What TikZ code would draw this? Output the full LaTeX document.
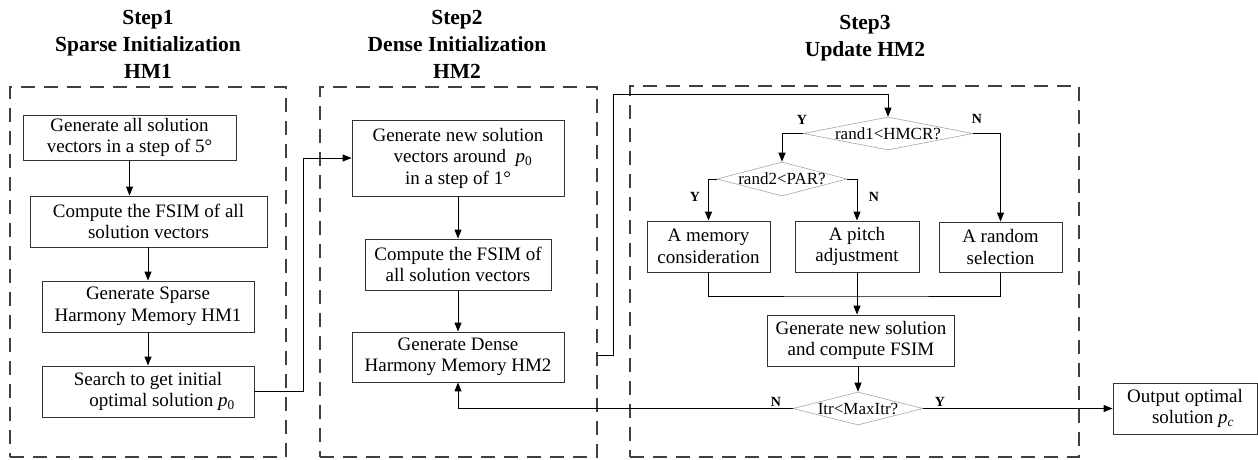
\documentclass[tikz,border=0pt]{standalone}
\usepackage{fontspec}
\setmainfont{Liberation Serif}
\usetikzlibrary{arrows.meta,shapes.geometric,calc}
\newcommand{\dtext}[1]{\makebox[0pt]{\raisebox{-0.33em}[0pt][0pt]{#1}}}
\begin{document}
\begin{tikzpicture}[x=1pt,y=1pt,
  box/.style={draw=black!80, line width=0.9pt, align=center, inner sep=1pt, font=\fontsize{19}{21.5}\selectfont},
  dbox/.style={draw=black!75, line width=1.1pt, dash pattern=on 14pt off 9pt, inner sep=0},
  dia/.style={diamond, draw=black!35, line width=0.6pt, inner sep=0, font=\fontsize{17}{19}\selectfont},
  arr/.style={-{Triangle[length=9pt,width=7pt]}, line width=1pt},
  conn/.style={line width=1pt},
  yn/.style={font=\fontsize{14}{16}\selectfont\bfseries, inner sep=0},
  ttl/.style={font=\fontsize{21.5}{27}\selectfont\bfseries, align=center}
]
\useasboundingbox (0,0) rectangle (1258,459);

% titles
\node[ttl] (T1) at (148,414.5) {Step1\\Sparse Initialization\\HM1};
\node[ttl] (T2) at (457,414.5) {Step2\\Dense Initialization\\HM2};
\node[ttl] (T3) at (865,421) {Step3\\Update HM2};

% dashed frames
\node[dbox, minimum width=276, minimum height=370] (D1) at (148,187) {};
\node[dbox, minimum width=277, minimum height=370] (D2) at (458.5,187) {};
\node[dbox, minimum width=449, minimum height=371] (D3) at (854.5,187.5) {};

% step 1
\node[box, minimum width=213, minimum height=45] (A1) at (129.5,321.5) {Generate all solution\\vectors in a step of 5°};
\node[box, minimum width=237, minimum height=51] (A2) at (148.5,237.5) {Compute the FSIM of all\\solution vectors};
\node[box, minimum width=212, minimum height=51] (A3) at (148,152.5) {Generate Sparse\\Harmony Memory HM1};
\node[box, minimum width=212, minimum height=51] (A4) at (148,67.5) {Search to get initial\\\hspace*{28pt}optimal solution {\itshape p}\textsubscript{0}};

% step 2
\node[box, minimum width=212, minimum height=76] (B1) at (458,301) {Generate new solution\\\hspace*{10pt}vectors around\ \ {\itshape p}\textsubscript{0}\\in a step of 1°};
\node[box, minimum width=186, minimum height=51] (B2) at (458,194.5) {Compute the FSIM of\\all solution vectors};
\node[box, minimum width=212, minimum height=50] (B3) at (458,102) {Generate Dense\\Harmony Memory HM2};

% step 3
\node[dia, minimum width=170, minimum height=33] (H1) at (888,325.5) {\dtext{rand1<HMCR?}};
\node[dia, minimum width=130, minimum height=34] (H2) at (782,280) {\dtext{rand2<PAR?}};
\node[box, minimum width=123, minimum height=51] (M) at (708.5,212.5) {A memory\\consideration};
\node[box, minimum width=124, minimum height=51] (P) at (857,212.5) {A pitch\\adjustment};
\node[box, minimum width=123, minimum height=50] (R) at (1000.5,212) {A random\\selection};
\node[box, minimum width=187, minimum height=51] (C5) at (861,118.5) {Generate new solution\\and compute FSIM};
\node[dia, minimum width=130, minimum height=33] (H3) at (858,50.5) {\dtext{Itr<MaxItr?}};
\node[box, minimum width=144, minimum height=51] (O) at (1185,50.5) {Output optimal\\\hspace*{16pt}solution {\itshape p}\textsubscript{\itshape c}};

% labels
\node[yn] (y1) at (802,339) {Y};
\node[yn] (n1) at (977,340) {N};
\node[yn] (y2) at (695,262) {Y};
\node[yn] (n2) at (874,262) {N};
\node[yn] (n3) at (776,57) {N};
\node[yn] (y3) at (940,57) {Y};

% step 1 arrows
\draw[arr] (A1.south) -- (A1.south |- A2.north);
\draw[arr] (A2.south -| A3.north) -- (A3.north);
\draw[arr] (A3.south) -- (A4.north);
\draw[arr] (A4.east) -- ++(49,0) |- (B1.west);

% step 2 arrows
\draw[arr] (B1.south) -- (B2.north);
\draw[arr] (B2.south) -- (B3.north);
\coordinate (lp) at (613,365);
\draw[arr] (D2.east |- 0,104) -| (lp) -| (H1.north);

% step 3 arrows
\draw[arr] (H1.west) -| (H2.north);
\draw[arr] (H1.east) -| (R.north);
\draw[arr] (H2.west) -| (M.north);
\draw[arr] (H2.east) -| (P.north);
\coordinate (mg) at (858,163);
\draw[conn] (M.south) |- (mg) -| (R.south);
\draw[arr] (P.south) -- (P.south |- C5.north);
\draw[arr] (H3.north |- C5.south) -- (H3.north);
\draw[arr] (H3.west) -| (B3.south);
\draw[arr] (H3.east) -- (O.west);
\end{tikzpicture}
\end{document}
